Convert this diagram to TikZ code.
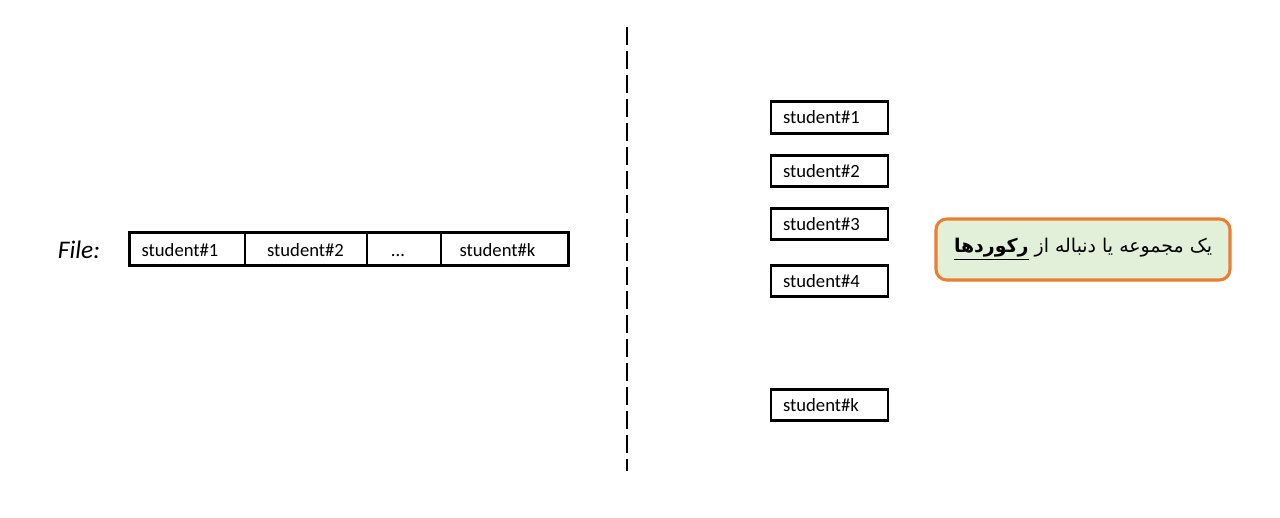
\documentclass[tikz,border=0pt]{standalone}
\usepackage{fontspec}
\setmainfont{Carlito}
\newfontfamily\arabicfont[Script=Arabic]{DejaVu Sans}
\TeXXeTstate=1
\definecolor{boxorange}{HTML}{ED7D31}
\definecolor{boxgreen}{HTML}{E2F0D9}
\begin{document}
\begin{tikzpicture}[x=0.75pt,y=-0.75pt,
  cell/.style={draw=black,line width=1.1pt,minimum height=24pt,inner sep=0pt},
  celltext/.style={font=\fontsize{14}{16}\selectfont,inner sep=0pt,text height=9.6pt,text depth=0.4pt},
  recbox/.style={draw=black,line width=2.2pt,minimum width=87.75pt,minimum height=23.5pt,
     text width=69.75pt,inner xsep=9pt,inner ysep=0pt,align=left,font=\fontsize{14}{16}\selectfont},
  note/.style={draw=boxorange,fill=boxgreen,line width=2.3pt,rounded corners=8pt,
     minimum width=220.5pt,minimum height=45.75pt,inner sep=0pt}]
\useasboundingbox (0,0) rectangle (1280,517);
% File label
\node[font=\fontsize{19}{22}\selectfont\itshape,inner sep=0pt] (file) at (79,250) {File:};
% bar cells
\node[cell,minimum width=86.25pt] (c1) at (187.5,249) {};
\node[cell,minimum width=91.5pt] (c2) at (306,249) {};
\node[cell,minimum width=55.5pt] (c3) at (404,249) {};
\node[cell,minimum width=95.25pt] (c4) at (504.5,249) {};
\draw[line width=2.2pt] (c1.north west) rectangle (c4.south east);
\node[celltext] (t1) at (180,250) {student\#1};
\node[celltext] (t2) at (305.5,250) {student\#2};
\node[celltext] (t3) at (398,250) {...};
\node[celltext] (t4) at (497.5,250) {student\#k};
% dashed separator
\coordinate (dtop) at (627,27);
\coordinate (dbot) at (627,471);
\draw[line width=2pt,dash pattern=on 13.5pt off 4.5pt] (dtop) -- (dbot);
% record boxes
\node[recbox] (r1) at (829.5,117.5) {student\#1};
\node[recbox] (r2) at (829.5,171) {student\#2};
\node[recbox] (r3) at (829.5,224) {student\#3};
\node[recbox] (r4) at (829.5,281) {student\#4};
\node[recbox] (rk) at (829.5,405) {student\#k};
% note
\node[note] (n) at (1083,249.5) {};
\node[inner sep=0pt,font=\arabicfont\fontsize{14.2}{18}\selectfont] (ntext) at (1083,249)
  {\beginR یک مجموعه یا دنباله از \underline{\textbf{رکوردها}}\endR};
\end{tikzpicture}
\end{document}
